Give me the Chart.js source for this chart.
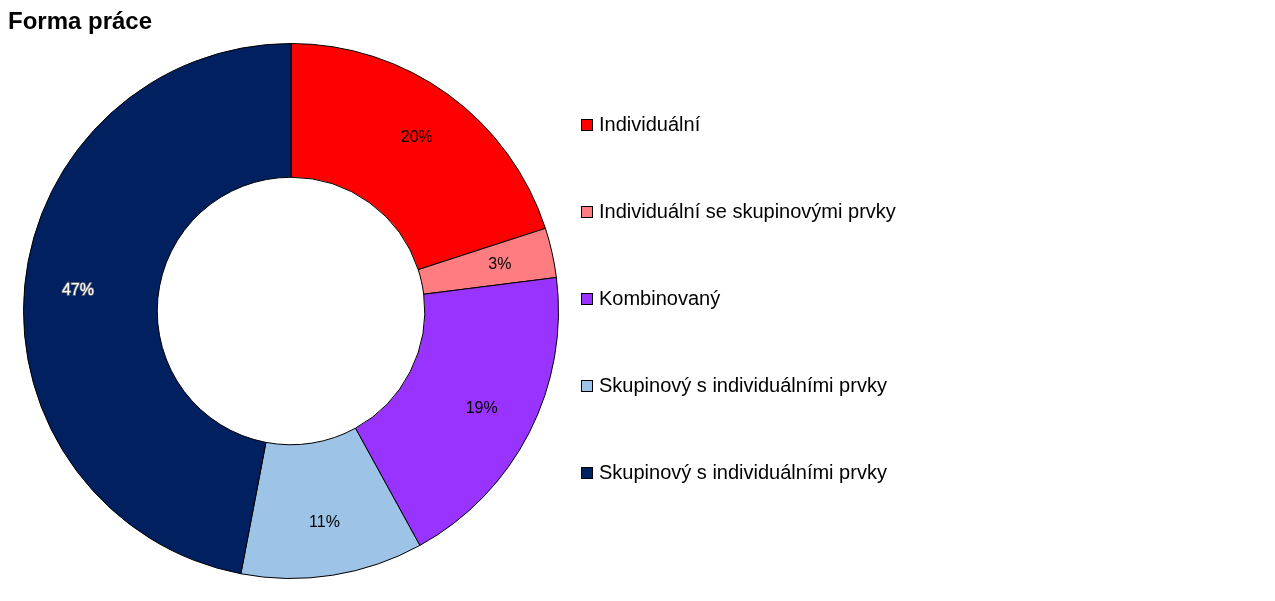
<!DOCTYPE html>
<html><head><meta charset="utf-8">
<script src="https://cdn.jsdelivr.net/npm/chart.js@4"></script>
<style>
body{margin:0;background:#fff;font-family:"Liberation Sans",Arial,sans-serif;}
#wrap{position:relative;width:1275px;height:601px;}
#title{position:absolute;left:8px;top:7px;font-size:24px;font-weight:bold;color:#000;}
#c{position:absolute;left:0;top:0;}
#legend{position:absolute;left:581px;top:0;}
.item{position:absolute;left:0;white-space:nowrap;font-size:20px;color:#000;}
.box{display:inline-block;width:12px;height:12px;border:1px solid #000;box-sizing:border-box;margin-right:6px;vertical-align:0px;}
</style></head><body>
<div id="wrap">
<canvas id="c" width="582" height="601" style="width:582px;height:601px"></canvas>
<div id="title">Forma práce</div>
<div id="legend"></div>
</div>
<script>
const categories=["Individuální","Individuální se skupinovými prvky","Kombinovaný","Skupinový s individuálními prvky","Skupinový s individuálními prvky"];
const values=[20,3,19,11,47];
const colors=["#ff0000","#ff7c80","#9933ff","#9dc3e6","#002060"];
const labelColors=["#000","#000","#000","#000","#fff"];

const leg=document.getElementById('legend');
categories.forEach((c,i)=>{
  const d=document.createElement('div');d.className='item';d.style.top=(113+i*87)+'px';
  d.innerHTML='<span class="box" style="background:'+colors[i]+'"></span>'+c;leg.appendChild(d);
});

const labelPlugin={id:'lbl',afterDatasetsDraw(chart){
  const ctx=chart.ctx;const meta=chart.getDatasetMeta(0);const total=values.reduce((a,b)=>a+b,0);
  ctx.save();ctx.font='16px "Liberation Sans", Arial';ctx.textAlign='center';ctx.textBaseline='middle';
  meta.data.forEach((arc,i)=>{
    const a=(arc.startAngle+arc.endAngle)/2;const r=arc.innerRadius+(arc.outerRadius-arc.innerRadius)*0.6;
    const x=arc.x+Math.cos(a)*r,y=arc.y+Math.sin(a)*r;
    const t=Math.round(values[i]/total*100)+'%';
    if(i===4){ctx.lineWidth=1.5;ctx.strokeStyle='#777';ctx.strokeText(t,x,y);}
    ctx.fillStyle=labelColors[i];ctx.fillText(t,x,y);
  });ctx.restore();}};

new Chart(document.getElementById('c'),{type:'doughnut',
 data:{labels:categories,datasets:[{data:values,backgroundColor:colors,borderColor:'#000',borderWidth:1}]},
 options:{responsive:false,animation:false,cutout:'50%',
  layout:{padding:{left:23,right:23,top:43,bottom:22}},
  plugins:{legend:{display:false},tooltip:{enabled:false}}},
 plugins:[labelPlugin]});
</script>
</body></html>
